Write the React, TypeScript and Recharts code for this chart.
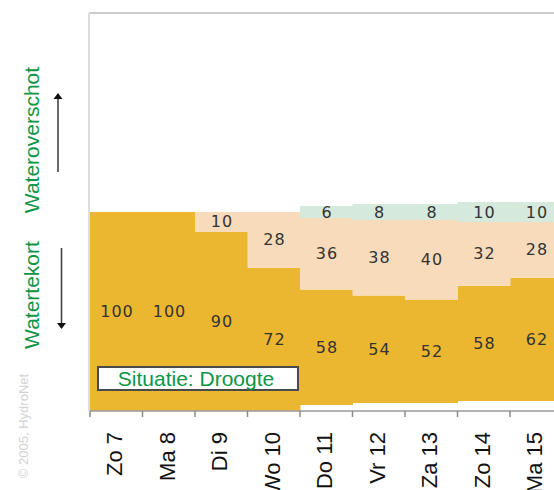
import React from 'react';
import { BarChart, Bar, XAxis, YAxis, LabelList } from 'recharts';

// Day labels and water-balance components per day
const days = ['Zo 7', 'Ma 8', 'Di 9', 'Wo 10', 'Do 11', 'Vr 12', 'Za 13', 'Zo 14', 'Ma 15'];
const shortage = [100, 100, 90, 72, 58, 54, 52, 58, 62];
const partial = [0, 0, 10, 28, 36, 38, 40, 32, 28];
const surplus = [0, 0, 0, 0, 6, 8, 8, 10, 10];
// invisible base under each column
const lift = [0, 0, 0, 0, 3, 4, 4, 5, 5];

const data = days.map((day, i) => ({
  day,
  lift: lift[i],
  shortage: shortage[i],
  partial: partial[i],
  surplus: surplus[i],
}));

const W = 554;
const H = 490;
const PLOT_LEFT = 90;
const PLOT_TOP = 13;
const PLOT_BOTTOM = 411;
const BAND = 52.5;
const PLOT_W = BAND * days.length;
const CHART_W = 580;

const ORANGE = '#ECB730';
const PEACH = '#F7DBBA';
const MINT = '#D5EADD';
const GREEN = '#0E9545';
const SANS = '"Liberation Sans", Arial, sans-serif';

const segLabel = (props: any) => {
  const { x, y, width, height, value } = props;
  if (!value) return null;
  return (
    <text
      x={Number(x) + Number(width) / 2 + 0.5}
      y={Number(y) + Number(height) / 2}
      textAnchor="middle"
      dominantBaseline="central"
      fontFamily='"DejaVu Sans", sans-serif'
      fontSize={16}
      letterSpacing={1}
      fill="#333"
    >
      {value}
    </text>
  );
};

const DayTick = (props: any) => {
  const { x, payload } = props;
  const left = x - BAND / 2;
  return (
    <g>
      <line x1={left} y1={PLOT_BOTTOM} x2={left} y2={PLOT_BOTTOM + 6} stroke="#8a8a8a" strokeWidth={1.5} />
      <text
        transform={`translate(${x + 6}, ${PLOT_BOTTOM + 21}) rotate(-90)`}
        textAnchor="end"
        fontFamily={SANS}
        fontSize={22}
        fill="#111"
      >
        {payload.value}
      </text>
    </g>
  );
};

function Arrow({ x, from, to }: { x: number; from: number; to: number }) {
  const dir = to < from ? -1 : 1;
  const headBase = to - dir * 6;
  return (
    <g>
      <line x1={x} y1={from} x2={x} y2={headBase} stroke="#444" strokeWidth={1.6} />
      <polygon points={`${x},${to} ${x - 4.5},${headBase} ${x + 4.5},${headBase}`} fill="#111" />
    </g>
  );
}

export default function App() {
  return (
    <div style={{ position: 'fixed', left: 0, top: 0, width: W, height: H, overflow: 'hidden', background: '#fff' }}>
      {/* plot frame behind the bars */}
      <svg width={W} height={H} style={{ position: 'absolute', left: 0, top: 0 }}>
        <line x1={PLOT_LEFT - 1} y1={PLOT_TOP} x2={W} y2={PLOT_TOP} stroke="#cccccc" strokeWidth={2} />
        <line x1={PLOT_LEFT - 1} y1={PLOT_TOP} x2={PLOT_LEFT - 1} y2={PLOT_BOTTOM} stroke="#dddddd" strokeWidth={2} />
      </svg>
      <div style={{ position: 'absolute', left: 0, top: 0 }}>
        <BarChart
          width={CHART_W}
          height={H}
          data={data}
          margin={{ top: PLOT_TOP, right: CHART_W - PLOT_LEFT - PLOT_W, left: PLOT_LEFT, bottom: 0 }}
          barCategoryGap={0}
          barGap={0}
        >
          <YAxis hide type="number" domain={[0, 200]} allowDataOverflow />
          <XAxis
            dataKey="day"
            interval={0}
            height={H - PLOT_BOTTOM}
            tickLine={false}
            axisLine={{ stroke: '#9a9a9a', strokeWidth: 1.5 }}
            tick={<DayTick />}
          />
          <Bar dataKey="lift" stackId="w" fill="transparent" isAnimationActive={false} />
          <Bar dataKey="shortage" stackId="w" fill={ORANGE} isAnimationActive={false}>
            <LabelList dataKey="shortage" content={segLabel} />
          </Bar>
          <Bar dataKey="partial" stackId="w" fill={PEACH} isAnimationActive={false}>
            <LabelList dataKey="partial" content={segLabel} />
          </Bar>
          <Bar dataKey="surplus" stackId="w" fill={MINT} isAnimationActive={false}>
            <LabelList dataKey="surplus" content={segLabel} />
          </Bar>
        </BarChart>
      </div>
      {/* side annotations and status box */}
      <svg width={W} height={H} style={{ position: 'absolute', left: 0, top: 0, pointerEvents: 'none' }}>
        <text transform="translate(39, 140) rotate(-90)" textAnchor="middle" fontFamily={SANS} fontSize={21} fill={GREEN}>
          Wateroverschot
        </text>
        <text transform="translate(39, 295) rotate(-90)" textAnchor="middle" fontFamily={SANS} fontSize={21} fill={GREEN}>
          Watertekort
        </text>
        <Arrow x={58} from={172} to={93} />
        <Arrow x={61.5} from={248} to={329} />
        <text transform="translate(28, 426) rotate(-90)" textAnchor="middle" fontFamily={SANS} fontSize={13} fill="#d2d2d2">
          © 2005, HydroNet
        </text>
        <rect x={98} y={367} width={200} height={23} fill="#fff" stroke="#4a4a4a" strokeWidth={2} />
        <text x={196} y={386} textAnchor="middle" fontFamily={SANS} fontSize={21} fill={GREEN}>
          Situatie: Droogte
        </text>
      </svg>
    </div>
  );
}
